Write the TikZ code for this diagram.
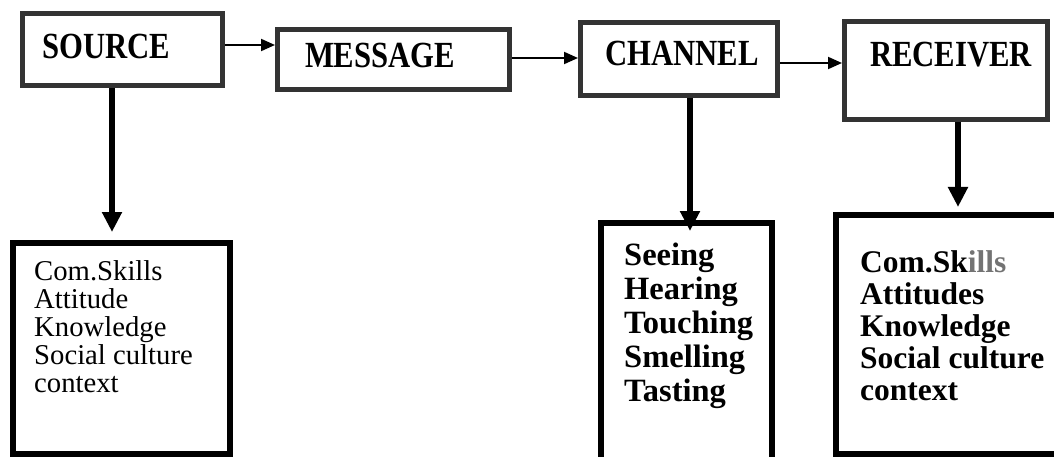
\documentclass[tikz,border=0pt]{standalone}
\usepackage{fontspec}
\setmainfont{Liberation Serif}
\usepackage{graphicx}
\usetikzlibrary{arrows.meta}

\tikzset{
  headbox/.style={draw=black!80, line width=5pt, anchor=north west, inner ysep=0pt,
    align=left, font=\fontsize{30.7}{32}\selectfont\bfseries},
  listframe/.style={anchor=north west, inner sep=0pt, outer sep=0pt},
  listtext/.style={anchor=north west, inner sep=0pt, align=left},
  flow/.style={line width=2pt, -{Triangle[length=14pt,width=12pt]}},
  drop/.style={line width=6pt, -{Triangle[length=20pt,width=19pt]}},
}

\begin{document}
\begin{tikzpicture}[x=1pt,y=-1pt]
\useasboundingbox (0,0) rectangle (1054,457);
% Top row
\node[headbox, inner xsep=20pt, text width=160pt, text height=45.5pt, text depth=26.5pt]
  (source) at (20,11) {\scalebox{1}[1.2]{SOURCE}};
\node[headbox, inner xsep=27.5pt, text width=177pt, text height=38pt, text depth=22pt]
  (message) at (275,27) {\scalebox{1}[1.2]{MESSAGE}};
\node[headbox, inner xsep=24.5pt, text width=148pt, text height=43pt, text depth=30pt]
  (channel) at (578,20) {\scalebox{1}[1.2]{CHANNEL}};
\node[headbox, inner xsep=25.5pt, text width=152pt, text height=45pt, text depth=53pt]
  (receiver) at (842,19) {\scalebox{1}[1.2]{RECEIVER}};
% Links between the boxes
\draw[flow] (source.east |- 0,45) -- (message.west |- 0,45);
\draw[flow] (message.east |- 0,58) -- (channel.west |- 0,58);
\draw[flow] (channel.east |- 0,63) -- (receiver.west |- 0,63);
% Bottom frames
\node[listframe, draw, line width=6pt, minimum width=217pt, minimum height=211pt]
  (srcframe) at (13,243) {};
\node[listframe, minimum width=171pt, minimum height=240pt] (chframe) at (601,223) {};
\node[listframe, minimum width=230pt, minimum height=239pt] (rframe) at (836,215) {};
\draw[line width=6pt] (chframe.south west) -- (chframe.north west)
  -- (chframe.north east) -- (chframe.south east);
\draw[line width=6pt] (rframe.north east) -- (rframe.north west)
  -- (rframe.south west) -- (rframe.south east);
% Drops
\draw[drop, shorten >=11pt] (source.south -| 112,0) -- (srcframe.north -| 112,0);
\draw[drop, shorten >=-8pt] (channel.south -| 690,0) -- (chframe.north -| 690,0);
\draw[drop, shorten >=8pt] (receiver.south -| 958,0) -- (rframe.north -| 958,0);
% Lists
\node[listtext, font=\fontsize{28.7}{28}\selectfont] (srclist) at (34,260.4)
  {Com.Skills\\Attitude\\Knowledge\\Social culture\\context};
\node[listtext, font=\fontsize{32.5}{34}\selectfont\bfseries] (chlist) at (624,242.6)
  {Seeing\\Hearing\\Touching\\Smelling\\Tasting};
\node[listtext, font=\fontsize{31.5}{32}\selectfont\bfseries] (rlist) at (860,250)
  {Com.Sk\textcolor{black!55}{ills}\\Attitudes\\Knowledge\\Social culture\\context};
\end{tikzpicture}
\end{document}
